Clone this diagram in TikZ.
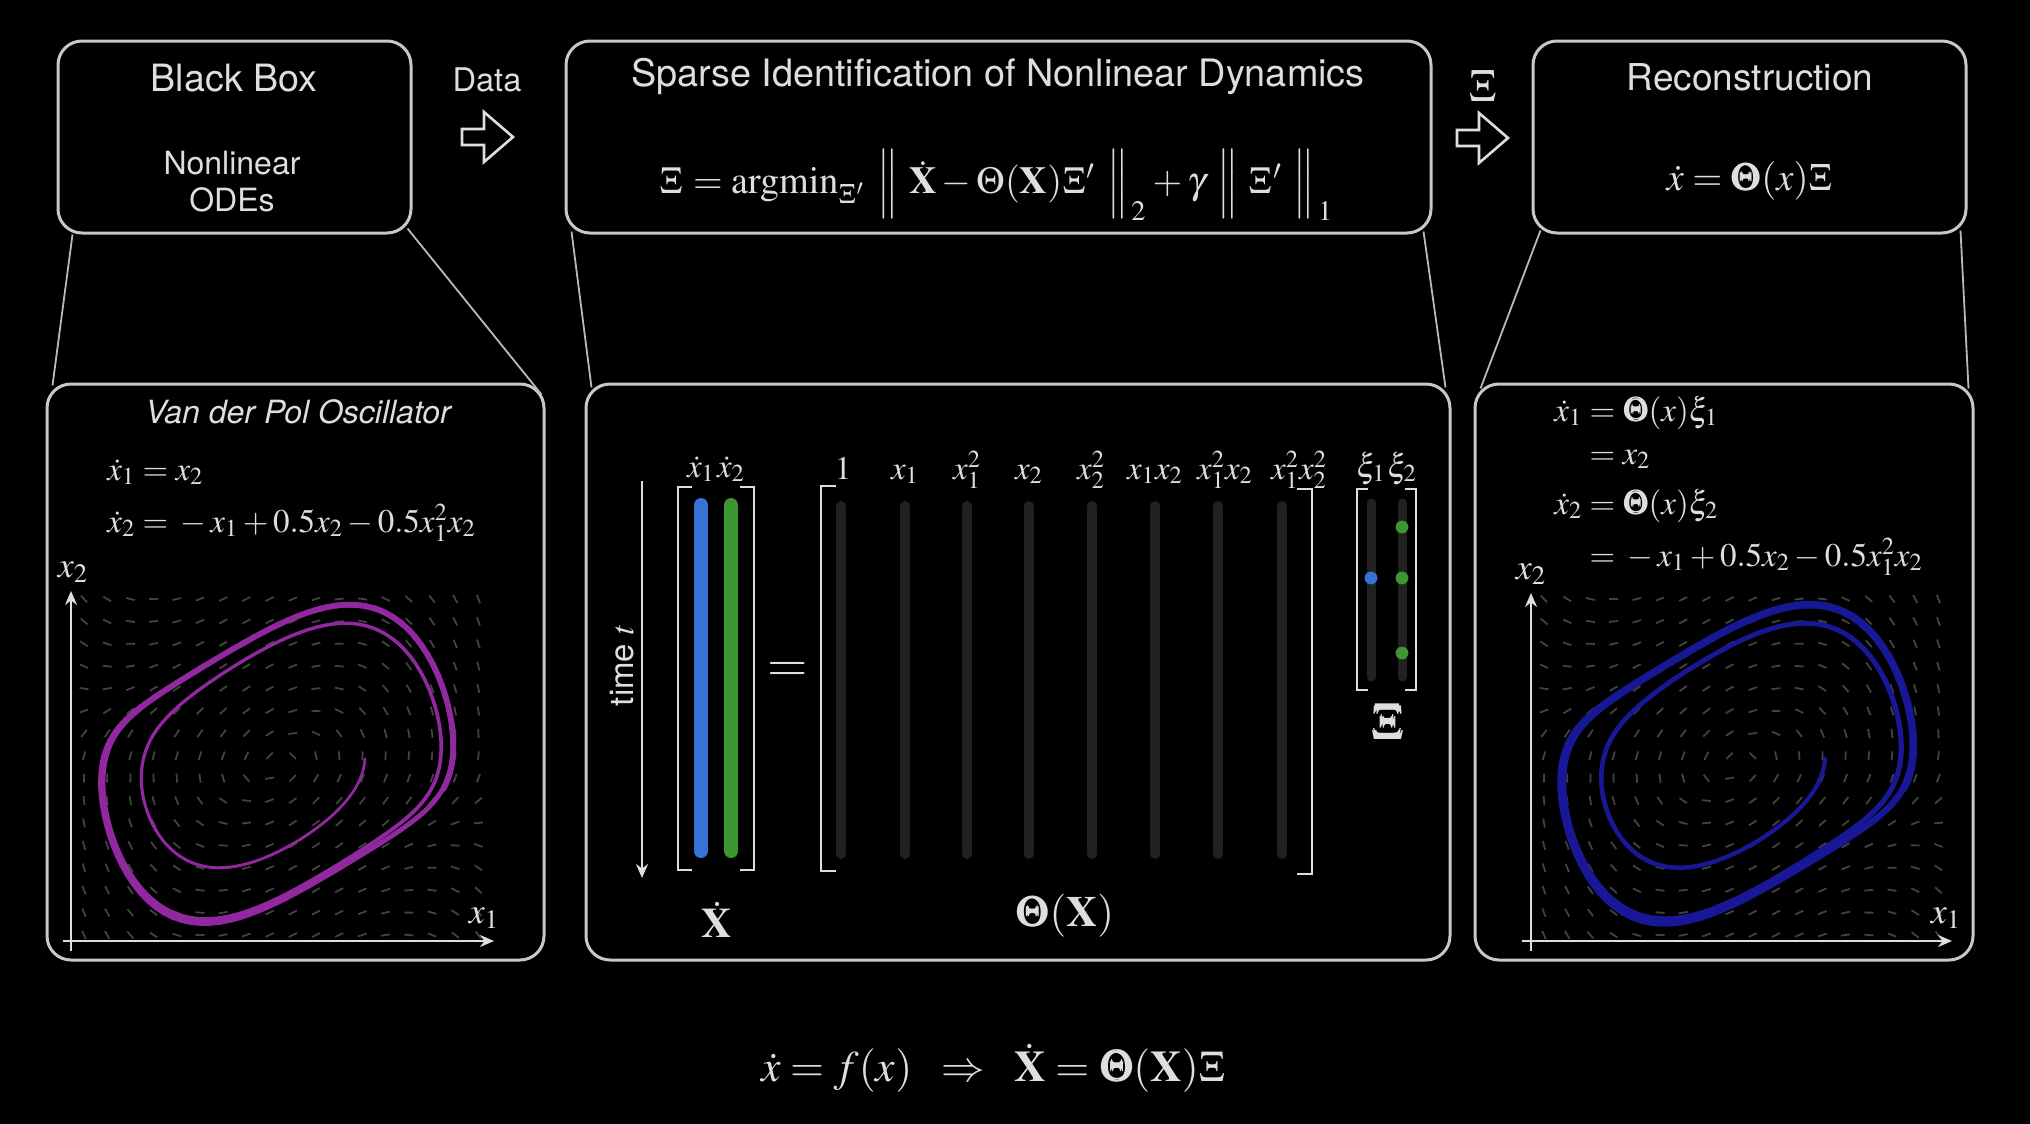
\documentclass[tikz,border=0pt]{standalone}
\usepackage{amsmath}
\usepackage{mathptmx}
\usepackage{bm}
\usepackage[no-math]{fontspec}
\setmainfont{TeX Gyre Heros}
\usepackage{graphicx}
\usetikzlibrary{calc,arrows.meta}

\definecolor{fg}{RGB}{222,222,222}
\definecolor{boxc}{RGB}{200,200,200}
\definecolor{zc}{RGB}{185,185,185}
\definecolor{colc}{RGB}{33,33,33}
\definecolor{fieldc}{RGB}{66,66,66}
\definecolor{vdppurple}{RGB}{145,40,160}
\definecolor{vdpblue}{RGB}{24,24,150}
\definecolor{barblue}{RGB}{55,115,215}
\definecolor{bargreen}{RGB}{60,150,50}

\newcommand\fsz[1]{\fontsize{#1}{#1}\selectfont}

\tikzset{
  box/.style={draw=boxc, line width=1.5pt, rounded corners=12pt, inner sep=0pt},
  zline/.style={draw=zc, line width=0.9pt},
  lbl/.style={text=fg, inner sep=0pt},
  hollow/.style={draw=fg, line width=1.3pt, line join=miter},
  bracketline/.style={draw=fg, line width=1.2pt},
  axisline/.style={draw=fg, line width=0.9pt, -{Stealth[length=7pt,width=6pt]}},
  darkcol/.style={draw=colc, line width=5pt, line cap=round},
  darkcolsm/.style={draw=colc, line width=4.5pt, line cap=round},
  fieldseg/.style={draw=fieldc, line width=0.9pt},
  pics/hollowarrow/.style={code={
    \draw[hollow] (0,-8) -- (22,-8) -- (22,-25) -- (51,0) -- (22,25) -- (22,8) -- (0,8) -- cycle;}},
}

% map: X = 277 + 88 x1 + 4.4 x2 ; Y = 764 - 5.4 x1 - 70 x2  (det = 6136.2)
% phase portrait: #1 x offset, #2 colour, #3 start width, #4 width increase
\newcommand\phaseplot[4]{%
  \foreach \vvi in {0,...,17}{\foreach \vvj in {0,...,15}{%
    \pgfmathsetmacro\vvpx{84+23.2*\vvi}%
    \pgfmathsetmacro\vvpy{599+22.4*\vvj}%
    \pgfmathsetmacro\vvdx{\vvpx-277}%
    \pgfmathsetmacro\vvdy{764-\vvpy}%
    \pgfmathsetmacro\vvua{0.011408*(\vvdx)-0.000717*(\vvdy)}%
    \pgfmathsetmacro\vvub{0.014341*(\vvdy)-0.00088*(\vvdx)}%
    \pgfmathsetmacro\vvga{\vvub}%
    \pgfmathsetmacro\vvgb{0-(\vvua)+0.5*(\vvub)-0.5*(\vvua)*(\vvua)*(\vvub)}%
    \pgfmathsetmacro\vvfa{88*(\vvga)+4.4*(\vvgb)}%
    \pgfmathsetmacro\vvfb{0-5.4*(\vvga)-70*(\vvgb)}%
    \pgfmathsetmacro\vvfl{veclen(\vvfa,\vvfb)+0.01}%
    \draw[fieldseg] ({#1+\vvpx-4.5*\vvfa/\vvfl},{\vvpy-4.5*\vvfb/\vvfl}) -- ({#1+\vvpx+4.5*\vvfa/\vvfl},{\vvpy+4.5*\vvfb/\vvfl});
  }}%
  \xdef\vxa{1}\xdef\vxb{0}%
  \foreach \vvk in {1,...,380}{%
    \pgfmathsetmacro\vvka{\vxb}%
    \pgfmathsetmacro\vvkb{0-(\vxa)+0.5*(\vxb)-0.5*(\vxa)*(\vxa)*(\vxb)}%
    \pgfmathsetmacro\vvma{\vxa+0.025*(\vvka)}%
    \pgfmathsetmacro\vvmb{\vxb+0.025*(\vvkb)}%
    \pgfmathsetmacro\vvna{\vxa+0.05*(\vvmb)}%
    \pgfmathsetmacro\vvnb{\vxb+0.05*(0-(\vvma)+0.5*(\vvmb)-0.5*(\vvma)*(\vvma)*(\vvmb))}%
    \pgfmathsetmacro\vvlw{#3+#4*\vvk/380}%
    \draw[#2, line width=\vvlw pt, line cap=round]
      ({#1+277+88*(\vxa)+4.4*(\vxb)},{764-5.4*(\vxa)-70*(\vxb)}) --
      ({#1+277+88*(\vvna)+4.4*(\vvnb)},{764-5.4*(\vvna)-70*(\vvnb)});
    \xdef\vxa{\vvna}\xdef\vxb{\vvnb}%
  }%
}

\begin{document}
\begin{tikzpicture}[x=0.5pt,y=-0.5pt]
\useasboundingbox (0,0) rectangle (2030,1124);
\fill[black] (0,0) rectangle (2030,1124);

% ---------- top boxes ----------
\node[box, minimum width=176.5pt, minimum height=96pt] (bb) at (234.5,137) {};
\node[box, minimum width=432.5pt, minimum height=96pt] (sindy) at (998.5,137) {};
\node[box, minimum width=216.5pt, minimum height=96pt] (rec) at (1749.5,137) {};

\node[lbl, font=\fsz{18.8}] (bbt) at (234,78) {Black Box};
\node[lbl, font=\fontsize{16}{18.5}\selectfont, align=center] (bbs) at (232,182) {Nonlinear\\ODEs};

\node[lbl, font=\fsz{16.3}] (datalbl) at (487,80) {Data};
\coordinate (dataarr) at (462,137);
\pic at (dataarr) {hollowarrow};

\node[lbl, font=\fsz{18.9}] (sindyt) at (998,77) {Sparse Identification of Nonlinear Dynamics};
\node[lbl] (sindyf) at (997,185) {\resizebox{337pt}{!}{$\Xi = \mathrm{argmin}_{\Xi'}\ \Big\|\ \dot{\mathbf X} - \Theta(\mathbf X)\Xi'\ \Big\|_{\,2} + \gamma\ \Big\|\ \Xi'\ \Big\|_{\,1}$}};

\node[lbl, font=\fsz{23}] (xilbl) at (1483,86) {$\Xi$};
\coordinate (xiarr) at (1457,138);
\pic at (xiarr) {hollowarrow};

\node[lbl, font=\fsz{18.5}] (rect) at (1750,77) {Reconstruction};
\node[lbl] (recf) at (1750,181) {\resizebox{83.5pt}{!}{$\dot x = \bm{\Theta}(x)\Xi$}};

% ---------- bottom panels ----------
\node[box, minimum width=248.5pt, minimum height=288pt] (pl) at (295.5,672) {};
\node[box, minimum width=432pt, minimum height=288pt] (pm) at (1018,672) {};
\node[box, minimum width=249pt, minimum height=288pt] (pr) at (1724,672) {};

% zoom lines
\draw[zline] ($(bb.south west)+(16,0)$) -- ($(pl.north west)+(7,3)$);
\draw[zline] ($(bb.south east)+(-5,-6)$) -- ($(pl.north east)+(-4,12)$);
\draw[zline] ($(sindy.south west)+(7,-3)$) -- ($(pm.north west)+(7,5)$);
\draw[zline] ($(sindy.south east)+(-9,-3)$) -- ($(pm.north east)+(-6,5)$);
\draw[zline] ($(rec.south west)+(9,-4)$) -- ($(pr.north west)+(7,6)$);
\draw[zline] ($(rec.south east)+(-7,-4)$) -- ($(pr.north east)+(-6,6)$);

% ---------- left panel ----------
\node[lbl, font=\fsz{16}\itshape] (vdpt) at (298,412) {Van der Pol Oscillator};
\node[lbl, anchor=base west, font=\fsz{16.5}] (leq1) at (107,480) {$\dot x_1 = x_2$};
\node[lbl, anchor=base west, font=\fsz{16.5}] (leq2) at (107,532) {$\dot x_2 = {}-x_1 + 0.5x_2 - 0.5x_1^2x_2$};

\phaseplot{0}{vdppurple}{1.3}{1.6}
\coordinate (lyb) at (71,951);
\coordinate (lyt) at (71,591);
\coordinate (lxl) at (63,941);
\coordinate (lxr) at (494,941);
\draw[axisline] (lyb) -- (lyt);
\draw[axisline] (lxl) -- (lxr);
\node[lbl, font=\fsz{18}] (lx2) at (73,572) {$x_2$};
\node[lbl, font=\fsz{18}] (lx1) at (484,918) {$x_1$};

% ---------- middle panel ----------
\coordinate (tt) at (642,481);
\coordinate (tb) at (642,878);
\draw[axisline] (tt) -- (tb);
\node[lbl, rotate=90, font=\fsz{16.5}] (timelbl) at (622,665) {time $t$};

\draw[bracketline] (692,487) -- (678,487) -- (678,870) -- (692,870);
\draw[bracketline] (740,487) -- (754,487) -- (754,870) -- (740,870);
\draw[barblue, line width=7pt, line cap=round] (701,505) -- (701,851);
\draw[bargreen, line width=7pt, line cap=round] (731,505) -- (731,851);
\node[lbl, anchor=base, font=\fsz{16.5}] (xd1) at (701,477) {$\dot x_1$};
\node[lbl, anchor=base, font=\fsz{16.5}] (xd2) at (731,477) {$\dot x_2$};
\node[lbl, font=\fsz{21}] (xdotlbl) at (717,920) {$\dot{\mathbf X}$};
\node[lbl, font=\fsz{26}] (eqsign) at (788,672) {$=$};

\draw[bracketline] (836,486) -- (821,486) -- (821,871) -- (836,871);
\draw[bracketline] (1297,489) -- (1312,489) -- (1312,874) -- (1297,874);
\foreach \cx in {841,905,967,1029,1092,1155,1218,1282}
  \draw[darkcol] (\cx,506) -- (\cx,854);
\node[lbl, anchor=base, font=\fsz{16.5}] (c1) at (843,479) {$1$};
\node[lbl, anchor=base, font=\fsz{16.5}] (c2) at (905,479) {$x_1$};
\node[lbl, anchor=base, font=\fsz{16.5}] (c3) at (967,479) {$x_1^2$};
\node[lbl, anchor=base, font=\fsz{16.5}] (c4) at (1029,479) {$x_2$};
\node[lbl, anchor=base, font=\fsz{16.5}] (c5) at (1091,479) {$x_2^2$};
\node[lbl, anchor=base, font=\fsz{16.5}] (c6) at (1155,479) {$x_1x_2$};
\node[lbl, anchor=base, font=\fsz{16.5}] (c7) at (1225,479) {$x_1^2x_2$};
\node[lbl, anchor=base, font=\fsz{16.5}] (c8) at (1299,479) {$x_1^2x_2^2$};
\node[lbl, font=\fsz{21.5}] (thetalbl) at (1065,916) {$\bm{\Theta}(\mathbf X)$};

\draw[bracketline] (1368,489) -- (1357,489) -- (1357,690) -- (1368,690);
\draw[bracketline] (1405,489) -- (1416,489) -- (1416,690) -- (1405,690);
\draw[darkcolsm] (1371,503) -- (1371,677);
\draw[darkcolsm] (1402,503) -- (1402,677);
\fill[barblue] (1371,578) circle (3.2pt);
\fill[bargreen] (1402,527) circle (3.2pt);
\fill[bargreen] (1402,578) circle (3.2pt);
\fill[bargreen] (1402,653) circle (3.2pt);
\node[lbl, anchor=base, font=\fsz{16.5}] (xi1) at (1371,477) {$\xi_1$};
\node[lbl, anchor=base, font=\fsz{16.5}] (xi2) at (1402,477) {$\xi_2$};
\node[lbl, font=\fsz{25}] (bigxi) at (1388,722) {$\bm{\Xi}$};

% ---------- right panel ----------
\node[lbl, anchor=base west, font=\fsz{16.5}] (req1) at (1554,421) {$\dot x_1 = \bm{\Theta}(x)\xi_1$};
\node[lbl, anchor=base west, font=\fsz{16.5}] (req2) at (1554,464) {$\phantom{\dot x_1} = x_2$};
\node[lbl, anchor=base west, font=\fsz{16.5}] (req3) at (1554,514) {$\dot x_2 = \bm{\Theta}(x)\xi_2$};
\node[lbl, anchor=base west, font=\fsz{16.5}] (req4) at (1554,566) {$\phantom{\dot x_2} = {}-x_1 + 0.5x_2 - 0.5x_1^2x_2$};

\phaseplot{1460}{vdpblue}{2.0}{1.8}
\coordinate (ryb) at (1531,951);
\coordinate (ryt) at (1531,593);
\coordinate (rxl) at (1522,941);
\coordinate (rxr) at (1952,941);
\draw[axisline] (ryb) -- (ryt);
\draw[axisline] (rxl) -- (rxr);
\node[lbl, font=\fsz{18}] (rx2) at (1531,574) {$x_2$};
\node[lbl, font=\fsz{18}] (rx1) at (1946,918) {$x_1$};

% ---------- bottom formula ----------
\node[lbl] (mainf) at (994,1068) {\resizebox{233pt}{!}{$\dot x = f(x)\;\;\Rightarrow\;\;\dot{\mathbf X} = \bm{\Theta}(\mathbf X)\Xi$}};
\end{tikzpicture}
\end{document}
